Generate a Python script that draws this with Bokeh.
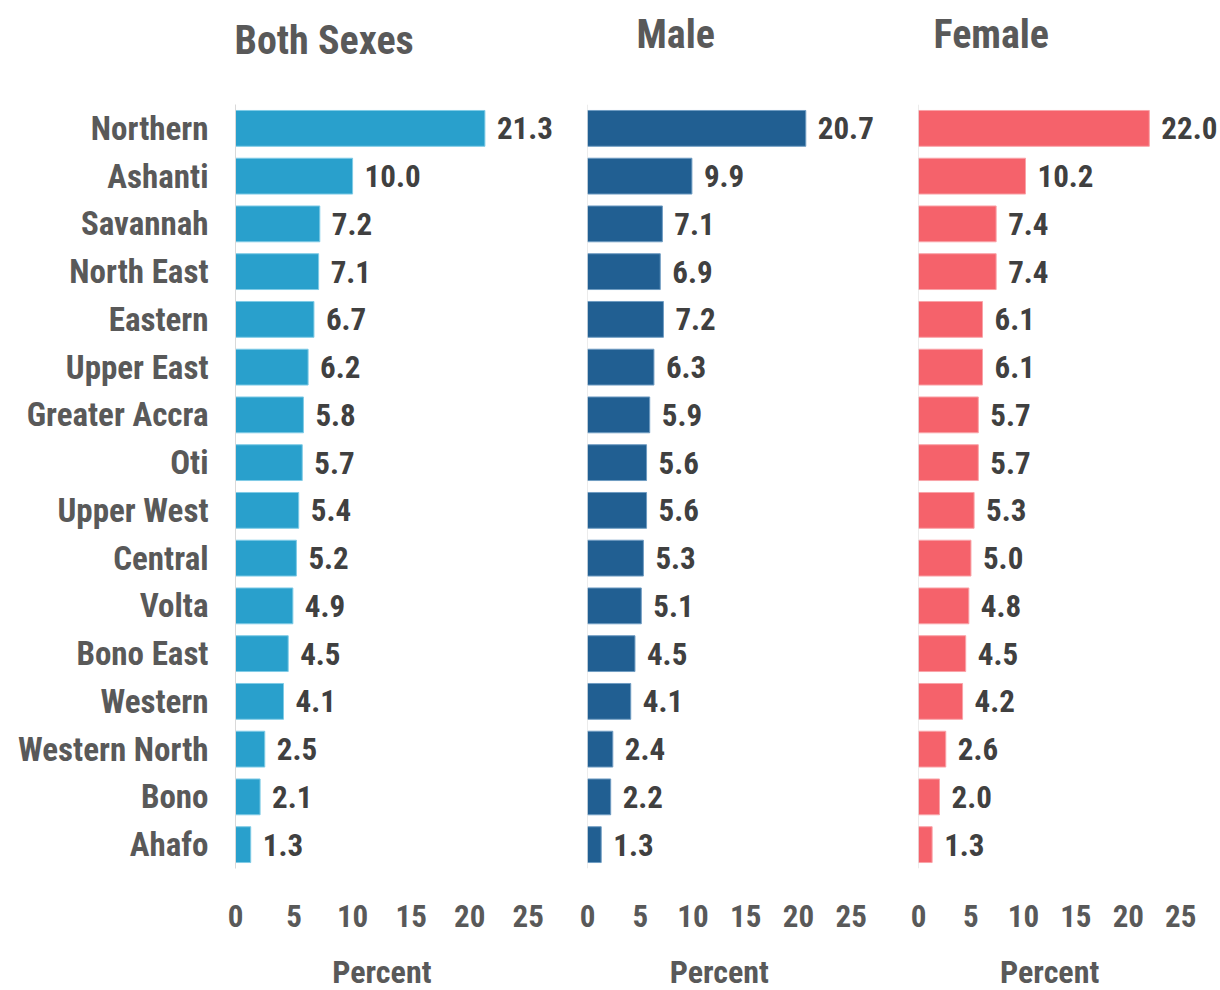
from bokeh.plotting import figure
from bokeh.models import FactorRange, Range1d, ColumnDataSource, Span, FixedTicker
from bokeh.layouts import row, column
from bokeh.embed import file_html
from bokeh.resources import INLINE
from bokeh.core.properties import value

regions = ["Northern", "Ashanti", "Savannah", "North East", "Eastern", "Upper East",
           "Greater Accra", "Oti", "Upper West", "Central", "Volta", "Bono East",
           "Western", "Western North", "Bono", "Ahafo"]
both_sexes = [21.3, 10.0, 7.2, 7.1, 6.7, 6.2, 5.8, 5.7, 5.4, 5.2, 4.9, 4.5, 4.1, 2.5, 2.1, 1.3]
male = [20.7, 9.9, 7.1, 6.9, 7.2, 6.3, 5.9, 5.6, 5.6, 5.3, 5.1, 4.5, 4.1, 2.4, 2.2, 1.3]
female = [22.0, 10.2, 7.4, 7.4, 6.1, 6.1, 5.7, 5.7, 5.3, 5.0, 4.8, 4.5, 4.2, 2.6, 2.0, 1.3]
x_ticks = [0, 5, 10, 15, 20, 25]
titles = ["Both Sexes", "Male", "Female"]
x_label = "Percent"

FONT = "Roboto Condensed"
GRAY = "#595959"
DARK = "#404040"
FS = "31px"
TOP_H = 104       # height of the title strip
MAIN_BOTTOM = 74  # room for tick labels under the frame
BOT_H = 48        # height of the axis-title strip

panels = [
    dict(title=titles[0], vals=both_sexes, color="#29A0CC", edge="#7fcbe6",
         xmax=27.5, fw=322, bl=235, br=15, toff=-1, tmid=40),
    dict(title=titles[1], vals=male, color="#215F92", edge="#6f9cc2",
         xmax=27.5, fw=290, bl=15, br=21, toff=49, tmid=34),
    dict(title=titles[2], vals=female, color="#F5626B", edge="#f9a3a8",
         xmax=28.5, fw=299, bl=20, br=0, toff=15, tmid=34),
]


def strip(pn, xr, h):
    s = figure(x_range=xr, y_range=Range1d(h, 0),
               frame_width=pn["fw"], frame_height=h,
               min_border_left=pn["bl"], min_border_right=pn["br"],
               min_border_top=0, min_border_bottom=0,
               output_backend="svg", toolbar_location=None)
    s.axis.visible = False
    s.grid.visible = False
    s.outline_line_color = None
    return s


tops, mains, bots = [], [], []
for i, pn in enumerate(panels):
    xr = Range1d(0, pn["xmax"])
    src = ColumnDataSource(dict(region=regions, val=pn["vals"],
                                lab=["%.1f" % v for v in pn["vals"]]))
    p = figure(y_range=FactorRange(factors=list(reversed(regions))), x_range=xr,
               frame_width=pn["fw"], frame_height=764,
               min_border_left=pn["bl"], min_border_right=pn["br"],
               min_border_top=0, min_border_bottom=MAIN_BOTTOM,
               output_backend="svg", toolbar_location=None)
    p.hbar(y="region", right="val", height=0.75, source=src,
           fill_color=pn["color"], line_color=pn["edge"], line_width=1)
    p.text(x="val", y="region", text="lab", source=src, x_offset=12,
           text_baseline="middle", text_align="left",
           text_font=value(FONT), text_font_style="bold",
           text_font_size=FS, text_color=DARK)
    p.outline_line_color = None
    p.grid.visible = False

    p.xaxis.ticker = FixedTicker(ticks=x_ticks)
    p.xaxis.axis_line_color = None
    p.xaxis.major_tick_line_color = None
    p.xaxis.minor_tick_line_color = None
    p.xaxis.major_tick_out = 0
    p.xaxis.major_tick_in = 0
    p.xaxis.minor_tick_out = 0
    p.xaxis.major_label_standoff = 36
    p.xaxis.major_label_text_font = FONT
    p.xaxis.major_label_text_font_size = FS
    p.xaxis.major_label_text_font_style = "bold"
    p.xaxis.major_label_text_color = GRAY

    if i == 0:
        p.yaxis.axis_line_color = "#d9d9d9"
        p.yaxis.major_tick_line_color = None
        p.yaxis.minor_tick_line_color = None
        p.yaxis.major_tick_out = 0
        p.yaxis.major_tick_in = 0
        p.yaxis.major_label_standoff = 27
        p.yaxis.major_label_text_font = FONT
        p.yaxis.major_label_text_font_size = "33px"
        p.yaxis.major_label_text_font_style = "bold"
        p.yaxis.major_label_text_color = GRAY
    else:
        p.yaxis.visible = False
        p.add_layout(Span(location=0, dimension="height", line_color="#d9d9d9", line_width=1))
    mains.append(p)

    # title strip above the panel
    t = strip(pn, xr, TOP_H)
    t.text(x=[x_ticks[0]], y=[pn["tmid"]], text=[pn["title"]], x_offset=pn["toff"],
           text_align="left", text_baseline="middle",
           text_font=value(FONT), text_font_size="40px", text_font_style="bold",
           text_color=GRAY)
    tops.append(t)

    # axis-title strip below the panel, centred on the tick span
    b = strip(pn, xr, BOT_H)
    b.text(x=[(x_ticks[0] + x_ticks[-1]) / 2], y=[29], text=[x_label],
           text_align="center", text_baseline="middle",
           text_font=value(FONT), text_font_size="32px", text_font_style="bold",
           text_color=GRAY)
    bots.append(b)

layout = column(row(*tops, spacing=0), row(*mains, spacing=0), row(*bots, spacing=0),
                spacing=0)
open("out.html", "w").write(file_html(layout, INLINE))
